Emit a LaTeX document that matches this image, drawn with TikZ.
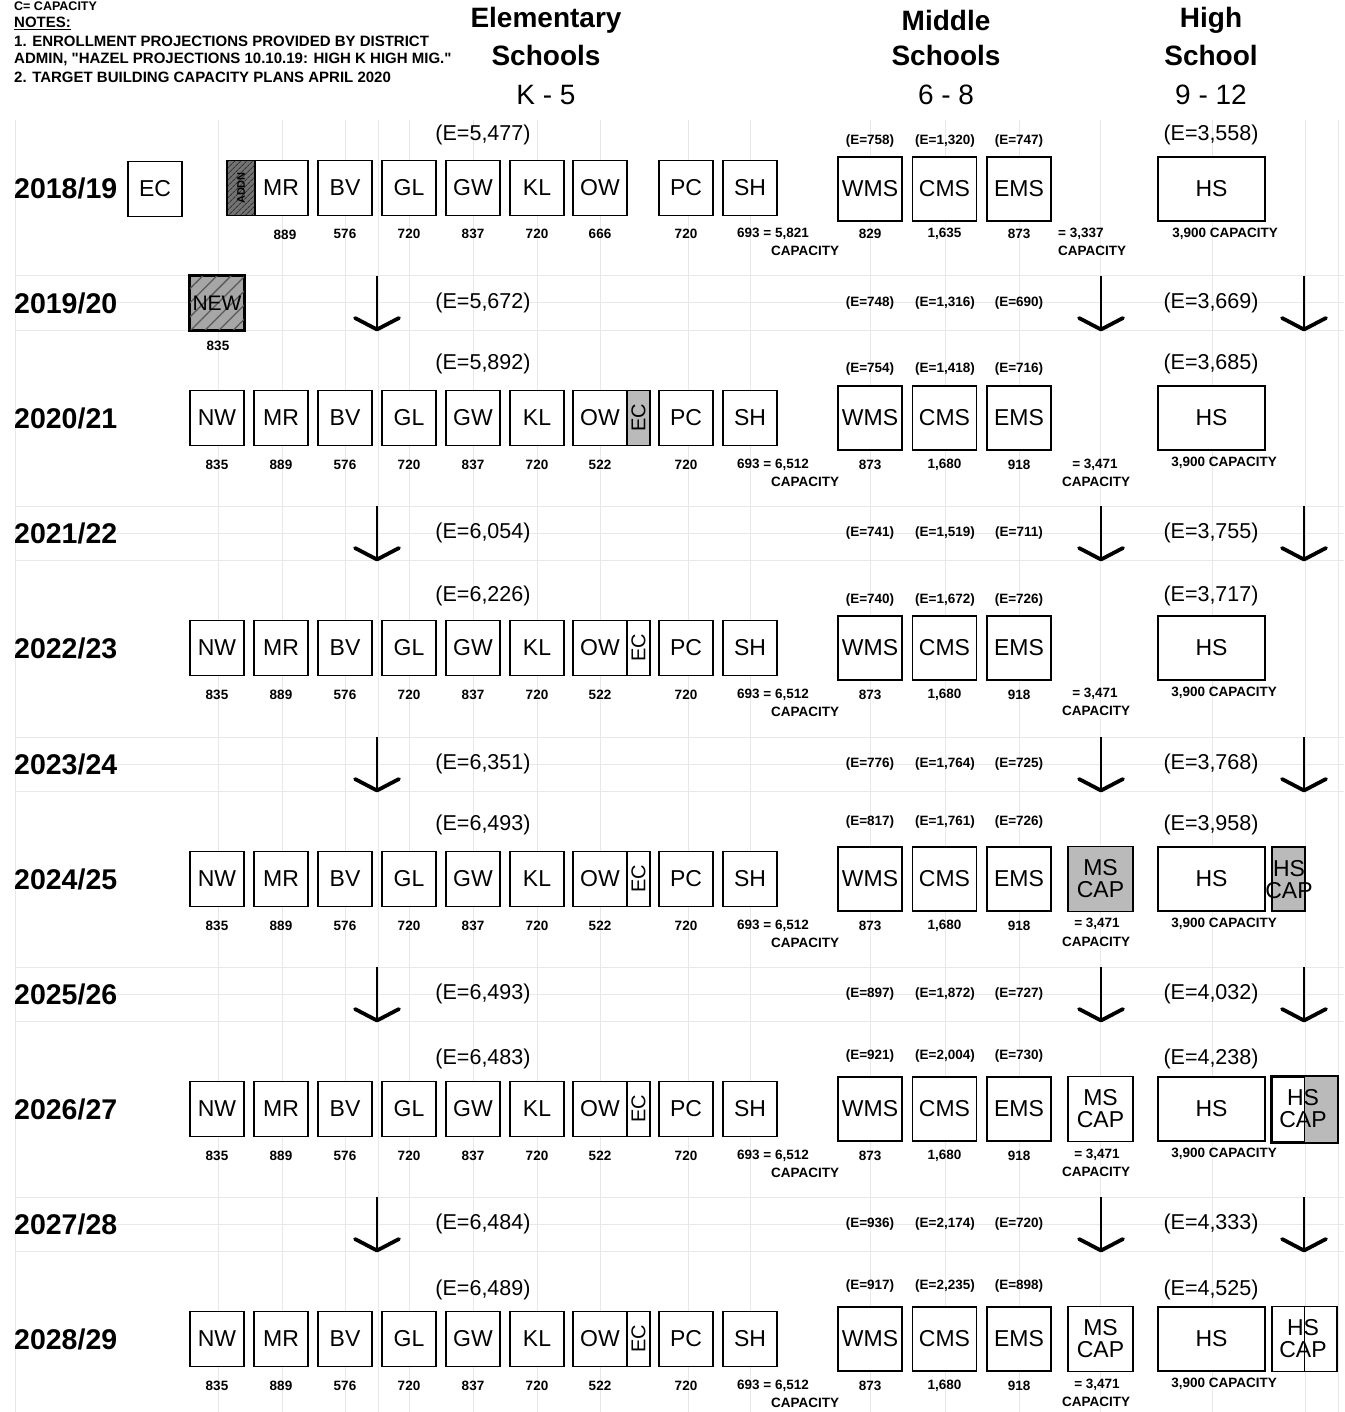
\documentclass[tikz,border=0pt]{standalone}
\usepackage{fontspec}
\setmainfont{Liberation Sans}
\usetikzlibrary{patterns.meta}
\tikzset{
  box/.style={draw, line width=1.6pt, fill=white, minimum width=54pt, minimum height=55pt, inner sep=0pt, font=\fontsize{23}{26}\selectfont},
  mbox/.style={box, minimum width=64pt, minimum height=64pt},
  hbox/.style={box, minimum width=107pt, minimum height=64pt},
  strip/.style={draw, line width=1.6pt, minimum width=23pt, minimum height=55pt, inner sep=0pt},
  striptext/.style={rotate=90, font=\fontsize{20}{22}\selectfont, inner sep=0pt},
  boxtext/.style={font=\fontsize{23}{26}\selectfont, inner sep=0pt, align=center},
  num/.style={font=\bfseries\fontsize{13.5}{15}\selectfont, inner sep=0pt},
  evl/.style={font=\fontsize{21.5}{24}\selectfont, inner sep=0pt},
  mevl/.style={font=\bfseries\fontsize{13.5}{15}\selectfont, inner sep=0pt},
  yr/.style={font=\bfseries\fontsize{28.5}{30}\selectfont, anchor=west, inner sep=0pt},
  head/.style={font=\bfseries\fontsize{28}{32}\selectfont, inner sep=0pt},
  subhead/.style={font=\fontsize{28}{32}\selectfont, inner sep=0pt},
  note/.style={font=\bfseries\fontsize{15}{16}\selectfont, anchor=west, inner sep=0pt},
  faint/.style={draw=black!9, line width=1pt},
  capfill/.style={fill=black!27},
  downarr/.pic={
    \draw[line width=2pt] (0,-27) -- (0,27);
    \draw[line width=3.8pt, line join=round, line cap=round] (-22,15) -- (0,26.5) -- (22,15);
  }
}
% elementary row with boxes: id, y, EC strip fill
\newcommand\ElemRow[3]{%
  \foreach \n/\x/\v in {NW/217/835, MR/281/889, BV/345/576, GL/409/720, GW/473/837, KL/537/720, PC/686/720}{
    \node[box] (#1-\n) at (\x,#2) {\n};
    \node[num] (#1-\n-c) at (\x,#2+47) {\v};
  }
  \node[box] (#1-OW) at (600,#2) {OW};
  \node[strip, fill=#3] (#1-EC) at (638.5,#2) {};
  \node[striptext] (#1-ECt) at (#1-EC.center) {EC};
  \node[num] (#1-OW-c) at (600,#2+47) {522};
  \node[box] (#1-SH) at (750,#2) {SH};
  \node[num, anchor=west] (#1-SH-c) at (737,#2+47) {693 = 6,512};
  \node[num] (#1-cap) at (805,#2+64) {CAPACITY};
}
% middle school row: id, y
\newcommand\MidRow[2]{%
  \foreach \n/\x/\v in {WMS/870/873, CMS/944.5/{1,680}, EMS/1019/918}{
    \node[mbox] (#1-\n) at (\x,#2) {\n};
    \node[num] (#1-\n-c) at (\x,#2+47) {\v};
  }
}
% middle E values: id, y, three values
\newcommand\MidE[5]{%
  \node[mevl] (#1-me1) at (870,#2) {(E=#3)};
  \node[mevl] (#1-me2) at (945,#2) {(E=#4)};
  \node[mevl] (#1-me3) at (1019,#2) {(E=#5)};
}
% high school box: id, y
\newcommand\HighRow[2]{%
  \node[hbox] (#1-HS) at (1211.5,#2) {HS};
  \node[num] (#1-HS-c) at (1224,#2+45) {3,900 CAPACITY};
}
% transition row: id, y, year, elem E, m1, m2, m3, hs E
\newcommand\TransRow[8]{%
  \node[yr] (#1-yr) at (14,#2) {#3};
  \pic at (377,#2) {downarr};
  \pic at (1101,#2) {downarr};
  \pic at (1304,#2) {downarr};
  \node[evl] (#1-ee) at (483,#2) {(E=#4)};
  \MidE{#1}{#2}{#5}{#6}{#7}
  \node[evl] (#1-he) at (1211,#2) {(E=#8)};
}
\begin{document}
\begin{tikzpicture}[x=1pt,y=-1pt]
\useasboundingbox (0,0) rectangle (1344,1412);
\fill[white] (0,0) rectangle (1344,1412);

% faint background grid
\foreach \x in {15,218,282,345,378,409,473,537,600,688,750,870,945,1019,1100,1212,1305,1338}{
  \draw[faint] (\x,120) -- (\x,1412);
}
\foreach \y in {303,533,764,994,1224}{
  \draw[faint] (15,\y) -- (1344,\y);
  \draw[faint] (15,\y+27) -- (1344,\y+27);
  \draw[faint] (15,\y-27) -- (1344,\y-27);
}

% notes
\node[note, font=\bfseries\fontsize{12.5}{14}\selectfont] (n0) at (14,6) {C= CAPACITY};
\node[note] (n1) at (14,23) {\underline{NOTES:}};
\node[note] (n2) at (14,41) {1. ENROLLMENT PROJECTIONS PROVIDED BY DISTRICT};
\node[note] (n3) at (14,59) {ADMIN, \textquotedbl HAZEL PROJECTIONS 10.10.19: HIGH K HIGH MIG.\textquotedbl};
\node[note] (n4) at (14,77) {2. TARGET BUILDING CAPACITY PLANS APRIL 2020};

% headings
\node[head] (h1a) at (546,20) {Elementary};
\node[head] (h1b) at (546,55) {Schools};
\node[subhead] (h1c) at (546,95) {K - 5};
\node[head] (h2a) at (946,20) {Middle};
\node[head] (h2b) at (946,55) {Schools};
\node[subhead] (h2c) at (946,95) {6 - 8};
\node[head] (h3a) at (1211,20) {High};
\node[head] (h3b) at (1211,55) {School};
\node[subhead] (h3c) at (1211,95) {9 - 12};

% ===== 2018/19 =====
\node[yr] (r0-yr) at (14,188) {2018/19};
\node[evl] (r0-ee) at (483,135) {(E=5,477)};
\MidE{r0}{141}{758}{1,320}{747}
\node[evl] (r0-he) at (1211,135) {(E=3,558)};
\node[box] (r0-EC) at (155,189) {EC};
\node[box, minimum width=81pt] (r0-MR) at (267.5,188) {};
\fill[black!55] (227,160.5) rectangle (255,215.5);
\fill[pattern={Lines[angle=45,distance=4pt,line width=1pt]}, pattern color=black!80] (227,160.5) rectangle (255,215.5);
\draw[line width=1.6pt] (227,160.5) rectangle (308,215.5);
\draw[line width=1.2pt] (255,160.5) -- (255,215.5);
\node[rotate=90, font=\bfseries\fontsize{11}{12}\selectfont, inner sep=0pt] (r0-addn) at (241,188) {ADDN};
\node[boxtext] (r0-MRt) at (281,188) {MR};
\foreach \n/\x/\v in {BV/345/576, GL/409/720, GW/473/837, KL/537/720, OW/600/666, PC/686/720}{
  \node[box] (r0-\n) at (\x,188) {\n};
  \node[num] (r0-\n-c) at (\x,234) {\v};
}
\node[num] (r0-MR-c) at (285,235) {889};
\node[box] (r0-SH) at (750,188) {SH};
\node[num, anchor=west] (r0-SH-c) at (737,234) {693 = 5,821};
\node[num] (r0-cap) at (805,251) {CAPACITY};
\foreach \n/\x/\v in {WMS/870/829, CMS/944.5/{1,635}, EMS/1019/873}{
  \node[mbox] (r0-\n) at (\x,189) {\n};
  \node[num] (r0-\n-c) at (\x,234) {\v};
}
\node[num, anchor=west] (r0-msum) at (1058,234) {= 3,337};
\node[num, anchor=west] (r0-mcap) at (1058,251) {CAPACITY};
\node[hbox] (r0-HS) at (1211.5,189) {HS};
\node[num] (r0-HS-c) at (1225,234) {3,900 CAPACITY};

% ===== 2019/20 =====
\TransRow{r1}{303}{2019/20}{5,672}{748}{1,316}{690}{3,669}
\node[box, minimum height=54pt, fill=black!35] (r1-NEW) at (217,303) {};
\fill[pattern={Lines[angle=45,distance=10pt,line width=1.3pt]}, pattern color=black!65] (r1-NEW.north west) rectangle (r1-NEW.south east);
\draw[line width=1.6pt] (r1-NEW.north west) rectangle (r1-NEW.south east);
\node[boxtext, font=\fontsize{21}{24}\selectfont] (r1-NEWt) at (217,303) {NEW};
\node[num] (r1-NEW-c) at (218,346) {835};

% ===== 2020/21 =====
\node[yr] (r2-yr) at (14,418) {2020/21};
\node[evl] (r2-ee) at (483,364) {(E=5,892)};
\MidE{r2}{369}{754}{1,418}{716}
\node[evl] (r2-he) at (1211,364) {(E=3,685)};
\ElemRow{r2}{418}{black!27}
\MidRow{r2}{418}
\node[num] (r2-msum) at (1095,465) {= 3,471};
\node[num] (r2-mcap) at (1096,482) {CAPACITY};
\HighRow{r2}{418}

% ===== 2021/22 =====
\TransRow{r3}{533}{2021/22}{6,054}{741}{1,519}{711}{3,755}

% ===== 2022/23 =====
\node[yr] (r4-yr) at (14,648) {2022/23};
\node[evl] (r4-ee) at (483,596) {(E=6,226)};
\MidE{r4}{600}{740}{1,672}{726}
\node[evl] (r4-he) at (1211,596) {(E=3,717)};
\ElemRow{r4}{648}{white}
\MidRow{r4}{648}
\node[num] (r4-msum) at (1095,694) {= 3,471};
\node[num] (r4-mcap) at (1096,711) {CAPACITY};
\HighRow{r4}{648}

% ===== 2023/24 =====
\TransRow{r5}{764}{2023/24}{6,351}{776}{1,764}{725}{3,768}

% ===== 2024/25 =====
\node[yr] (r6-yr) at (14,879) {2024/25};
\node[evl] (r6-ee) at (483,825) {(E=6,493)};
\MidE{r6}{822}{817}{1,761}{726}
\node[evl] (r6-he) at (1211,825) {(E=3,958)};
\ElemRow{r6}{879}{white}
\MidRow{r6}{879}
\node[mbox, minimum width=65pt, minimum height=65pt, capfill] (r6-MSCAP) at (1100.5,879) {};
\node[boxtext] (r6-MSCAPt) at (1100.5,879) {MS\\[-4pt]CAP};
\node[num] (r6-msum) at (1097,924) {= 3,471};
\node[num] (r6-mcap) at (1096,942) {CAPACITY};
\HighRow{r6}{879}
\node[box, minimum width=33pt, minimum height=64pt, capfill] (r6-HSCAP) at (1288.5,879) {};
\node[boxtext] (r6-HSCAPt) at (1289,880) {HS\\[-4pt]CAP};

% ===== 2025/26 =====
\TransRow{r7}{994}{2025/26}{6,493}{897}{1,872}{727}{4,032}

% ===== 2026/27 =====
\node[yr] (r8-yr) at (14,1109) {2026/27};
\node[evl] (r8-ee) at (483,1059) {(E=6,483)};
\MidE{r8}{1056}{921}{2,004}{730}
\node[evl] (r8-he) at (1211,1059) {(E=4,238)};
\ElemRow{r8}{1109}{white}
\MidRow{r8}{1109}
\node[mbox, minimum width=65pt, minimum height=65pt] (r8-MSCAP) at (1100.5,1109) {};
\node[boxtext] (r8-MSCAPt) at (1100.5,1109) {MS\\[-4pt]CAP};
\node[num] (r8-msum) at (1097,1155) {= 3,471};
\node[num] (r8-mcap) at (1096,1172) {CAPACITY};
\HighRow{r8}{1109}
\node[box, minimum width=65pt, minimum height=65pt] (r8-HSCAP) at (1304.5,1109.5) {};
\fill[black!27] (r8-HSCAP.north) rectangle (r8-HSCAP.south east);
\draw[line width=1.6pt] (r8-HSCAP.north west) rectangle (r8-HSCAP.south east);
\draw[line width=1.6pt] (r8-HSCAP.north) -- (r8-HSCAP.south);
\node[boxtext] (r8-HSCAPt) at (1303,1109) {HS\\[-4pt]CAP};

% ===== 2027/28 =====
\TransRow{r9}{1224}{2027/28}{6,484}{936}{2,174}{720}{4,333}

% ===== 2028/29 =====
\node[yr] (r10-yr) at (14,1339) {2028/29};
\node[evl] (r10-ee) at (483,1290) {(E=6,489)};
\MidE{r10}{1286}{917}{2,235}{898}
\node[evl] (r10-he) at (1211,1290) {(E=4,525)};
\ElemRow{r10}{1339}{white}
\MidRow{r10}{1339}
\node[mbox, minimum width=65pt, minimum height=65pt] (r10-MSCAP) at (1100.5,1339) {};
\node[boxtext] (r10-MSCAPt) at (1100.5,1339) {MS\\[-4pt]CAP};
\node[num] (r10-msum) at (1097,1385) {= 3,471};
\node[num] (r10-mcap) at (1096,1402) {CAPACITY};
\HighRow{r10}{1339}
\node[box, minimum width=65pt, minimum height=65pt] (r10-HSCAP) at (1304.5,1339) {};
\draw[line width=1.6pt] (r10-HSCAP.north) -- (r10-HSCAP.south);
\node[boxtext] (r10-HSCAPt) at (1303,1339) {HS\\[-4pt]CAP};
\end{tikzpicture}
\end{document}
